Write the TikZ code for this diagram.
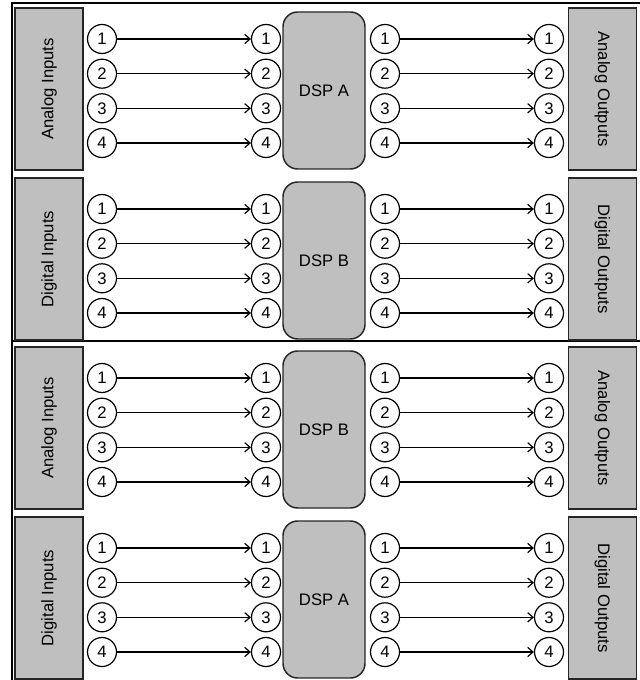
\documentclass[tikz,border=0pt]{standalone}
\usepackage{fontspec}
\setmainfont{Liberation Sans}
\usetikzlibrary{arrows.meta,positioning}

\tikzset{
  port/.style={circle, draw, line width=0.9pt, minimum size=21.75pt, inner sep=0pt, fill=white},
  side/.style={draw=black!85, line width=1.1pt, fill=black!25, minimum width=121.5pt, minimum height=51pt, inner sep=0pt},
  dspbox/.style={draw=black!85, line width=1.1pt, fill=black!25, rounded corners=11pt, minimum width=61.5pt, minimum height=117.75pt, inner sep=0pt},
  link/.style={line width=0.9pt, -{Straight Barb[length=4pt,width=7pt]}}
}

\begin{document}
\begin{tikzpicture}[x=0.75pt, y=-0.75pt, font=\fontsize{12.5}{15}\selectfont]
    \useasboundingbox (0,0) rectangle (639,680);
    % outer frame
    \draw[line width=1.5pt] (12,684) -- (12,3) -- (643,3);
    \draw[line width=1.5pt] (12,341) -- (643,341);

    % one panel per routing
    \foreach \p/\cy/\src/\dst/\dsp in {1/89/Analog Inputs/Analog Outputs/DSP A,
                                       2/259/Digital Inputs/Digital Outputs/DSP B,
                                       3/428/Analog Inputs/Analog Outputs/DSP B,
                                       4/598/Digital Inputs/Digital Outputs/DSP A}{
        \node[side, rotate=90] (in\p) at (49,\cy) {\src};
        \node[side, rotate=-90] (out\p) at (602.5,\cy) {\dst};
        \node[dspbox] (dsp\p) at (324,{\cy+1.5}) {\dsp};
        \foreach \r/\dy in {1/-50, 2/-15.3, 3/19.3, 4/54}{
            \node[port] (a\p\r) at (102,{\cy+\dy}) {\r};
            \node[port] (b\p\r) at (266,{\cy+\dy}) {\r};
            \node[port] (c\p\r) at (385,{\cy+\dy}) {\r};
            \node[port] (d\p\r) at (549,{\cy+\dy}) {\r};
            \draw[link] (a\p\r) -- (b\p\r);
            \draw[link] (c\p\r) -- (d\p\r);
        }
    }
\end{tikzpicture}
\end{document}
